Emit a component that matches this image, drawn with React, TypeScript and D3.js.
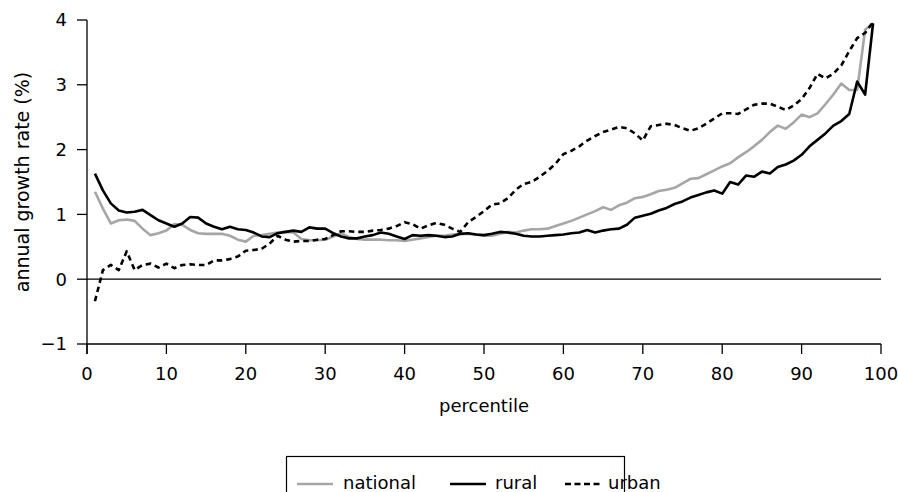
import React from "react";
import * as d3 from "d3";

const percentiles: number[] = d3.range(1, 100);

const rural: number[] = [
  1.63, 1.37, 1.17, 1.06, 1.03, 1.04, 1.07, 0.99, 0.91, 0.86,
  0.81, 0.86, 0.96, 0.95, 0.86, 0.81, 0.77, 0.81, 0.77, 0.76,
  0.72, 0.66, 0.65, 0.71, 0.73, 0.75, 0.73, 0.80, 0.78, 0.78,
  0.71, 0.66, 0.63, 0.63, 0.66, 0.68, 0.72, 0.70, 0.66, 0.62,
  0.68, 0.67, 0.68, 0.67, 0.65, 0.66, 0.70, 0.71, 0.69, 0.68,
  0.70, 0.73, 0.72, 0.70, 0.67, 0.66, 0.66, 0.67, 0.68, 0.69,
  0.71, 0.72, 0.76, 0.72, 0.75, 0.77, 0.78, 0.84, 0.95, 0.98,
  1.01, 1.06, 1.10, 1.16, 1.20, 1.26, 1.30, 1.34, 1.37, 1.32,
  1.50, 1.46, 1.60, 1.58, 1.66, 1.63, 1.73, 1.77, 1.83, 1.92,
  2.05, 2.15, 2.25, 2.37, 2.44, 2.55, 3.05, 2.85, 3.95,
];

const national: number[] = [
  1.35, 1.09, 0.86, 0.91, 0.92, 0.90, 0.78, 0.68, 0.71, 0.75,
  0.85, 0.84, 0.76, 0.71, 0.70, 0.70, 0.70, 0.67, 0.61, 0.58,
  0.67, 0.68, 0.70, 0.72, 0.73, 0.72, 0.62, 0.60, 0.60, 0.61,
  0.66, 0.71, 0.65, 0.62, 0.61, 0.61, 0.61, 0.60, 0.60, 0.59,
  0.61, 0.63, 0.65, 0.67, 0.67, 0.69, 0.70, 0.70, 0.69, 0.67,
  0.67, 0.70, 0.73, 0.72, 0.75, 0.77, 0.77, 0.78, 0.82, 0.86,
  0.90, 0.95, 1.00, 1.05, 1.11, 1.07, 1.14, 1.18, 1.25, 1.27,
  1.31, 1.36, 1.38, 1.41, 1.48, 1.55, 1.56, 1.62, 1.68, 1.74,
  1.79, 1.88, 1.96, 2.05, 2.15, 2.27, 2.37, 2.32, 2.42, 2.54,
  2.50, 2.56, 2.70, 2.85, 3.02, 2.92, 2.92, 3.85, 3.95,
];

const urban: number[] = [
  -0.34, 0.14, 0.22, 0.14, 0.43, 0.14, 0.22, 0.24, 0.18, 0.24,
  0.17, 0.22, 0.23, 0.22, 0.22, 0.29, 0.29, 0.31, 0.35, 0.44,
  0.45, 0.47, 0.55, 0.67, 0.61, 0.58, 0.59, 0.59, 0.61, 0.62,
  0.68, 0.74, 0.74, 0.73, 0.73, 0.75, 0.76, 0.78, 0.82, 0.88,
  0.85, 0.78, 0.83, 0.87, 0.84, 0.78, 0.73, 0.88, 0.96, 1.05,
  1.15, 1.17, 1.25, 1.38, 1.47, 1.50, 1.58, 1.67, 1.78, 1.93,
  1.98, 2.05, 2.14, 2.21, 2.27, 2.31, 2.35, 2.33, 2.25, 2.14,
  2.36, 2.38, 2.40, 2.38, 2.33, 2.29, 2.33, 2.40, 2.48, 2.56,
  2.56, 2.55, 2.62, 2.69, 2.71, 2.71, 2.66, 2.61, 2.68, 2.78,
  2.95, 3.17, 3.10, 3.17, 3.30, 3.52, 3.72, 3.80, 3.97,
];

const xTicks: number[] = [0, 10, 20, 30, 40, 50, 60, 70, 80, 90, 100];
const yTicks: number[] = [-1, 0, 1, 2, 3, 4];
const seriesNames: string[] = ["national", "rural", "urban"];

const FONT = "DejaVu Sans, sans-serif";

export default function App() {
  const W = 898;
  const H = 492;
  const x = d3.scaleLinear().domain([0, 100]).range([87, 881]);
  const y = d3.scaleLinear().domain([-1, 4]).range([344, 20]);

  const line = d3
    .line<number>()
    .x((_, i) => x(percentiles[i]))
    .y((d) => y(d));

  const styles: Record<string, { stroke: string; dash?: string }> = {
    national: { stroke: "#a6a6a6" },
    rural: { stroke: "#000000" },
    urban: { stroke: "#000000", dash: "5.5,4" },
  };
  const data: Record<string, number[]> = { national, rural, urban };

  const legendItems = [
    { name: "national", lx: 297, tx: 343 },
    { name: "rural", lx: 450, tx: 495 },
    { name: "urban", lx: 565, tx: 608 },
  ];

  return (
    <div style={{ position: "absolute", left: 0, top: 0 }}>
      <svg width={W} height={H} style={{ display: "block", background: "#fff" }}>
        <line x1={x(0)} x2={x(100)} y1={y(0)} y2={y(0)} stroke="#000" strokeWidth={1.2} />
        {seriesNames.map((n) => (
          <path
            key={n}
            d={line(data[n]) || ""}
            fill="none"
            stroke={styles[n].stroke}
            strokeWidth={2.6}
            strokeDasharray={styles[n].dash}
            strokeLinejoin="round"
          />
        ))}
        <line x1={x(0)} x2={x(0)} y1={y(4)} y2={y(-1) + 10} stroke="#000" strokeWidth={1.3} />
        {yTicks.map((t) => (
          <g key={"y" + t}>
            <line x1={x(0) - 10} x2={x(0)} y1={y(t)} y2={y(t)} stroke="#000" strokeWidth={1.3} />
            <text
              x={x(0) - 20}
              y={y(t)}
              dy="0.36em"
              textAnchor="end"
              fontFamily={FONT}
              fontSize={18}
              fill="#000"
            >
              {t < 0 ? "\u2212" + Math.abs(t) : String(t)}
            </text>
          </g>
        ))}
        <line x1={x(0)} x2={x(100)} y1={y(-1)} y2={y(-1)} stroke="#000" strokeWidth={1.3} />
        {xTicks.map((t) => (
          <g key={"x" + t}>
            <line x1={x(t)} x2={x(t)} y1={y(-1)} y2={y(-1) + 10} stroke="#000" strokeWidth={1.3} />
            <text
              x={x(t)}
              y={380}
              textAnchor="middle"
              fontFamily={FONT}
              fontSize={18}
              fill="#000"
            >
              {t}
            </text>
          </g>
        ))}
        <text x={484} y={412} textAnchor="middle" fontFamily={FONT} fontSize={18} fill="#000">
          percentile
        </text>
        <text
          transform={`translate(29, ${(y(4) + y(-1)) / 2}) rotate(-90)`}
          textAnchor="middle"
          fontFamily={FONT}
          fontSize={19}
          fill="#000"
        >
          annual growth rate (%)
        </text>
        <rect x={286.5} y={456.5} width={338} height={60} fill="none" stroke="#000" strokeWidth={1.2} />
        {legendItems.map((it) => (
          <g key={it.name}>
            <line
              x1={it.lx}
              x2={it.lx + 36}
              y1={484}
              y2={484}
              stroke={styles[it.name].stroke}
              strokeWidth={2.6}
              strokeDasharray={it.name === "urban" ? "6,3.5" : undefined}
            />
            <text x={it.tx} y={489} fontFamily={FONT} fontSize={18} fill="#000">
              {it.name}
            </text>
          </g>
        ))}
      </svg>
    </div>
  );
}
